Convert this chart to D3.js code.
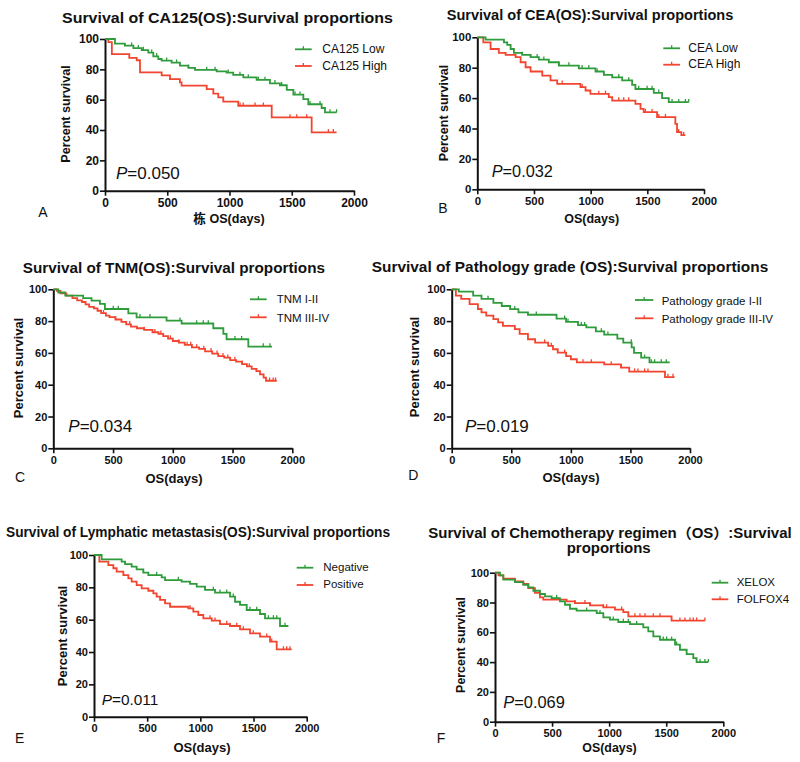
<!DOCTYPE html>
<html><head><meta charset="utf-8">
<script src="https://cdn.jsdelivr.net/npm/d3@7"></script>
<style>
body{margin:0;background:#fff}
svg{display:block}
text{font-family:"Liberation Sans",Arial,"Noto Sans CJK SC",sans-serif;fill:#111}
</style>
</head><body>
<svg id="chart" width="800" height="762"></svg>
<script>
// ---------------- DATA ----------------
const xTicks = [0, 500, 1000, 1500, 2000];
const yTicks = [0, 20, 40, 60, 80, 100];
const panelLetters = ["A", "B", "C", "D", "E", "F"];
const titleLines = [
  ["Survival of CA125(OS):Survival proportions"],
  ["Survival of CEA(OS):Survival proportions"],
  ["Survival of TNM(OS):Survival proportions"],
  ["Survival of Pathology grade (OS):Survival proportions"],
  ["Survival of Lymphatic metastasis(OS):Survival proportions"],
  ["Survival of Chemotherapy regimen（OS）:Survival", "proportions"]
];
const groupNames = [
  ["CA125 Low", "CA125 High"],
  ["CEA Low", "CEA High"],
  ["TNM I-II", "TNM III-IV"],
  ["Pathology grade I-II", "Pathology grade III-IV"],
  ["Negative", "Positive"],
  ["XELOX", "FOLFOX4"]
];
const pValues = ["0.050", "0.032", "0.034", "0.019", "0.011", "0.069"];
const xAxisLabels = ["栋 OS(days)", "OS(days)", "OS(days)", "OS(days)", "OS(days)", "OS(days)"];
const yAxisLabel = "Percent survival";

// Panel A: CA125
const aLowDays = [0,80,160,228,295,348,388,428,455,535,602,670,723,897,977,1030,1111,1218,1325,1405,1460,1513,1593,1633,1740,1767];
const aLowSurv = [100,97,95.6,94,92.7,91,88.6,86.8,85.7,84.4,82.4,81,79.6,78.7,77.8,76.3,74.7,73,70.8,69.5,66.4,63.3,60.4,57,54.5,51.6];
const aLowEnd = 1860;
const aLowCensored = [214,268,308,375,415,495,575,670,817,884,990,1084,1151,1232,1285,1365,1419,1526,1566,1647,1727,1807,1860];
const aHighDays = [0,27,55,195,255,281,455,522,602,615,817,870,910,950,1070,1339,1660];
const aHighSurv = [100,98,90,87.6,86,78,76,73.6,71.4,69.2,67,64,61.5,58.7,56,48.3,38.5];
const aHighEnd = 1860;
const aHighCensored = [1085,1110,1205,1272,1486,1540,1620,1794,1834];

// Panel B: CEA
const bLowDays = [0,73,235,264,294,323,396,470,543,631,720,896,1043,1116,1190,1278,1366,1395,1557,1630,1689];
const bLowSurv = [100,98.5,96.7,95,92.3,89.7,88.4,86.9,85.3,83.6,81.4,79.6,77.5,75.3,73.7,71.6,68.7,66,63.5,60,57.3];
const bLowEnd = 1865;
const bLowCensored = [396,470,528,587,720,808,925,984,1057,1116,1248,1336,1424,1498,1542,1601,1718,1777,1836,1865];
const bHighDays = [0,53,117,190,250,338,382,426,470,573,646,705,910,955,998,1160,1190,1395,1440,1468,1586,1747,1762,1800];
const bHighSurv = [100,96.7,92.3,89.7,88.4,86.9,83.6,80.3,77.5,74.8,71.6,69.4,67.2,65,62.8,60.6,58.4,56.2,52.9,50.8,47.5,43,37.6,35.6];
const bHighEnd = 1835;
const bHighCensored = [749,925,1072,1131,1248,1292,1336,1483,1542,1601,1660,1777,1821];

// Panel C: TNM
const cLowDays = [0,42,100,250,320,390,432,628,697,948,1074,1339,1423,1450,1632];
const cLowSurv = [100,98,96,94.5,92.9,90.8,87.6,84.9,82.4,80.3,78.5,75.5,72,68.6,64];
const cLowEnd = 1830;
const cLowCensored = [502,544,725,809,1060,1199,1255,1297,1520,1576,1757,1813];
const cHighDays = [0,30,60,110,160,200,240,270,300,340,370,400,440,470,520,570,610,650,700,760,830,880,920,960,1000,1050,1100,1160,1220,1270,1330,1380,1430,1480,1530,1580,1620,1660,1700,1730,1760,1780];
const cHighSurv = [100,99,97.5,96,94.5,93,92,90.5,89,88,86.5,85,83.5,82.5,81,79.5,78,76.5,75.5,74.5,73,72,70.5,69,67.5,66.5,65,63.5,62.5,61,59.5,58,57,55.5,54.5,53,51.5,50,48.5,46.5,44.5,42.5];
const cHighEnd = 1870;
const cHighCensored = [420,520,640,760,850,900,980,1050,1120,1150,1200,1260,1320,1370,1420,1460,1520,1580,1640,1700,1810,1840,1860];

// Panel D: Pathology grade
const dLowDays = [0,60,180,250,350,420,490,560,640,880,960,1060,1130,1210,1280,1390,1440,1510,1530,1590,1660];
const dLowSurv = [100,98.5,96,94,91.5,89.5,87.5,85.5,84,81.5,79.5,77.5,76,73.5,71.5,69,66.5,63.5,60,57,54];
const dLowEnd = 1830;
const dLowCensored = [305,529,710,948,976,1088,1116,1256,1311,1507,1619,1675,1703,1759,1801];
const dHighDays = [0,35,80,150,220,250,290,350,390,430,530,570,640,700,810,850,890,960,1000,1050,1280,1420,1490,1790];
const dHighSurv = [100,96,94,90.7,87.6,85.5,83.4,81.3,79.2,77,75,72,68.6,66.5,64.4,62.3,60.2,58,56,54,52.8,50.7,48.2,44.8];
const dHighEnd = 1870;
const dHighCensored = [780,836,948,1102,1172,1339,1423,1535,1563,1619,1647,1815,1857];

// Panel E: Lymphatic metastasis
const eNegDays = [0,72,260,292,354,401,464,511,636,668,824,903,966,1044,1138,1279,1326,1373,1436,1561,1608,1749];
const eNegSurv = [100,97.3,95.9,94.4,92.8,91.1,89.1,87.6,86.2,84.5,83.5,82.1,80.4,78.4,76.7,74.2,71.1,69.1,66,63.5,60.8,56.1];
const eNegEnd = 1828;
const eNegCensored = [464,589,793,1044,1122,1185,1248,1310,1467,1530,1640,1687,1718,1796];
const ePosDays = [0,50,135,182,213,276,323,354,401,448,511,558,589,621,668,715,887,934,981,1028,1107,1185,1279,1373,1467,1561,1655,1718];
const ePosSurv = [100,95.9,93.8,91.8,89.7,87.6,85.6,83.5,81.4,79.4,77.9,76.3,74.2,72.2,70.1,68,67,65,62.9,60.8,59.4,57.3,56.1,54,51.5,49.5,46.4,41.6];
const ePosEnd = 1859;
const ePosCensored = [903,1091,1138,1248,1279,1342,1404,1498,1624,1671,1781,1812,1843];

// Panel F: Chemotherapy regimen
const fXeloxDays = [0,44,73,175,248,292,336,394,438,496,569,613,657,715,891,949,1007,1080,1182,1299,1343,1387,1445,1577,1620,1679,1737,1766];
const fXeloxSurv = [100,98.2,95.3,93.7,91.9,90.2,87.9,85.7,84.1,83,80.8,78.5,75.8,74.5,72.9,70,68.5,66.9,65.5,63.3,60.6,57.3,55,51.7,48.3,45.4,42.7,40];
const fXeloxEnd = 1869;
const fXeloxCensored = [540,803,920,1036,1124,1168,1241,1474,1504,1547,1591,1796,1839,1869];
const fFolfoxDays = [0,30,73,175,248,292,350,394,423,628,700,832,949,1051,1124,1168,1547];
const fFolfoxSurv = [100,98.2,96,94.2,92.4,89.7,86.4,83.4,81.9,80.8,79.6,78.1,76.7,75.2,73.6,70.7,67.8];
const fFolfoxEnd = 1839;
const fFolfoxCensored = [700,788,832,949,978,1109,1226,1270,1314,1387,1445,1620,1664,1708,1737,1766,1839];

const curvesByPanel = [
  [[aLowDays,aLowSurv,aLowEnd,aLowCensored],[aHighDays,aHighSurv,aHighEnd,aHighCensored]],
  [[bLowDays,bLowSurv,bLowEnd,bLowCensored],[bHighDays,bHighSurv,bHighEnd,bHighCensored]],
  [[cLowDays,cLowSurv,cLowEnd,cLowCensored],[cHighDays,cHighSurv,cHighEnd,cHighCensored]],
  [[dLowDays,dLowSurv,dLowEnd,dLowCensored],[dHighDays,dHighSurv,dHighEnd,dHighCensored]],
  [[eNegDays,eNegSurv,eNegEnd,eNegCensored],[ePosDays,ePosSurv,ePosEnd,ePosCensored]],
  [[fXeloxDays,fXeloxSurv,fXeloxEnd,fXeloxCensored],[fFolfoxDays,fFolfoxSurv,fFolfoxEnd,fFolfoxCensored]]
];

// ---------------- LAYOUT ----------------
const GREEN = "#2f9b3b", RED = "#f2452f";
const layout = [
  {x0:105, x1:354, yT:39, yB:190.7, tickFs:12, tFs:15.5, titles:[[62,22.5,331]],
   yLab:[69.5,114], xLab:[229,222.7], labFs:12.6, pv:[116,179,17], letter:[38.3,216.7],
   leg:{lx1:295,lx2:311.7,ly:[49.3,66],tx:322.3,ty:[53.3,70],fs:12}},
  {x0:477.3, x1:704, yT:37.3, yB:189.3, tickFs:11.4, tFs:14.5, titles:[[446.7,19.5,286.6]],
   yLab:[448,113], xLab:[591.7,222.7], labFs:12.5, pv:[491.7,176.7,16.3], letter:[438.3,213.3],
   leg:{lx1:663.3,lx2:680,ly:[48.3,64.7],tx:688.3,ty:[51.7,68.3],fs:12}},
  {x0:53.3, x1:292.3, yT:289.3, yB:448.3, tickFs:11, tFs:15, titles:[[22.7,272.5,302.3]],
   yLab:[23,368], xLab:[174,482.5], labFs:13, pv:[68.3,431.7,17], letter:[15,481.7],
   leg:{lx1:250,lx2:266.7,ly:[299.3,317.3],tx:276.7,ty:[303.3,321.7],fs:11.5}},
  {x0:451.7, x1:690, yT:289.3, yB:448.3, tickFs:11, tFs:15, titles:[[371.7,271.5,396.6]],
   yLab:[419,367], xLab:[571,481.7], labFs:13, pv:[465,431.7,17], letter:[408.3,480],
   leg:{lx1:635,lx2:653.3,ly:[300,318.3],tx:661.7,ty:[305,323.3],fs:11.5}},
  {x0:94, x1:306.7, yT:555, yB:716.7, tickFs:11, tFs:14, titles:[[6,536.7,384]],
   yLab:[66.5,636], xLab:[202,751.7], labFs:13, pv:[101.7,705,15.4], letter:[15,742.7],
   leg:{lx1:296.7,lx2:313.3,ly:[567.7,585],tx:323.3,ty:[570.7,588.3],fs:11.5}},
  {x0:495, x1:723.3, yT:572.7, yB:721.7, tickFs:11, tFs:14, titles:[[428.3,537.5,363.4],[566.7,553.3,84]],
   yLab:[465,645], xLab:[609.5,751.7], labFs:12.4, pv:[503.3,708.3,16.4], letter:[436.7,743],
   leg:{lx1:711.7,lx2:728.3,ly:[582.7,599.3],tx:736.7,ty:[586,602.7],fs:11.5}}
];

// ---------------- DRAW ----------------
const svg = d3.select("#chart");
svg.append("rect").attr("width",800).attr("height",762).attr("fill","#fff");

layout.forEach((L, p) => {
  const g = svg.append("g");
  const x = d3.scaleLinear().domain([0, 2000]).range([L.x0, L.x1]);
  const y = d3.scaleLinear().domain([0, 100]).range([L.yB, L.yT]);

  // titles
  titleLines[p].forEach((t, k) => {
    const [tx, ty, tw] = L.titles[k];
    g.append("text").attr("x", tx).attr("y", ty).attr("font-size", L.tFs)
      .attr("font-weight", "bold").attr("textLength", tw)
      .attr("lengthAdjust", "spacingAndGlyphs").text(t);
  });

  // axes
  const yAxis = d3.axisLeft(y).tickValues(yTicks).tickFormat(d3.format("d")).tickSize(5).tickPadding(1).tickSizeOuter(0);
  const xAxis = d3.axisBottom(x).tickValues(xTicks).tickFormat(d3.format("d")).tickSize(5).tickPadding(3).tickSizeOuter(0);
  const ga = g.append("g").attr("transform", `translate(${L.x0},0)`).call(yAxis);
  const gb = g.append("g").attr("transform", `translate(0,${L.yB})`).call(xAxis);
  [ga, gb].forEach(a => {
    a.attr("font-family", null).attr("font-size", null);
    a.select(".domain").attr("stroke", "#111").attr("stroke-width", 2);
    a.selectAll(".tick line").attr("stroke", "#111").attr("stroke-width", 1.6);
    a.selectAll(".tick text").attr("font-size", L.tickFs).attr("font-weight", "bold").attr("fill", "#111");
  });

  // axis titles
  g.append("text").attr("transform", `translate(${L.yLab[0]},${L.yLab[1]}) rotate(-90)`)
    .attr("text-anchor", "middle").attr("font-size", L.labFs).attr("font-weight", "bold").text(yAxisLabel);
  g.append("text").attr("x", L.xLab[0]).attr("y", L.xLab[1]).attr("text-anchor", "middle")
    .attr("font-size", L.labFs).attr("font-weight", "bold").text(xAxisLabels[p]);

  // curves (red first, green on top)
  const colors = [GREEN, RED];
  [1, 0].forEach(k => {
    const [T, S, end, cens] = curvesByPanel[p][k];
    const pts = T.map((t, i) => [t, S[i]]);
    pts.push([end, S[S.length - 1]]);
    const line = d3.line().x(d => x(d[0])).y(d => y(d[1])).curve(d3.curveStepAfter);
    g.append("path").attr("d", line(pts)).attr("fill", "none")
      .attr("stroke", colors[k]).attr("stroke-width", 1.8);
    cens.forEach(c => {
      const i = Math.max(0, d3.bisectRight(T, c) - 1);
      const v = S[i];
      g.append("line").attr("x1", x(c)).attr("x2", x(c))
        .attr("y1", y(v)).attr("y2", y(v) - 3.2)
        .attr("stroke", colors[k]).attr("stroke-width", 1.3);
    });
  });

  // legend
  const lg = L.leg;
  [0, 1].forEach(k => {
    g.append("line").attr("x1", lg.lx1).attr("x2", lg.lx2).attr("y1", lg.ly[k]).attr("y2", lg.ly[k])
      .attr("stroke", colors[k]).attr("stroke-width", 1.8);
    const mid = (lg.lx1 + lg.lx2) / 2;
    g.append("line").attr("x1", mid).attr("x2", mid).attr("y1", lg.ly[k]).attr("y2", lg.ly[k] - 3)
      .attr("stroke", colors[k]).attr("stroke-width", 1.3);
    g.append("text").attr("x", lg.tx).attr("y", lg.ty[k]).attr("font-size", lg.fs).text(groupNames[p][k]);
  });

  // p value
  const pt = g.append("text").attr("x", L.pv[0]).attr("y", L.pv[1]).attr("font-size", L.pv[2]);
  pt.append("tspan").attr("font-style", "italic").text("P");
  pt.append("tspan").text("=" + pValues[p]);

  // panel letter
  g.append("text").attr("x", L.letter[0]).attr("y", L.letter[1]).attr("font-size", 14).text(panelLetters[p]);
});
</script>
</body></html>
